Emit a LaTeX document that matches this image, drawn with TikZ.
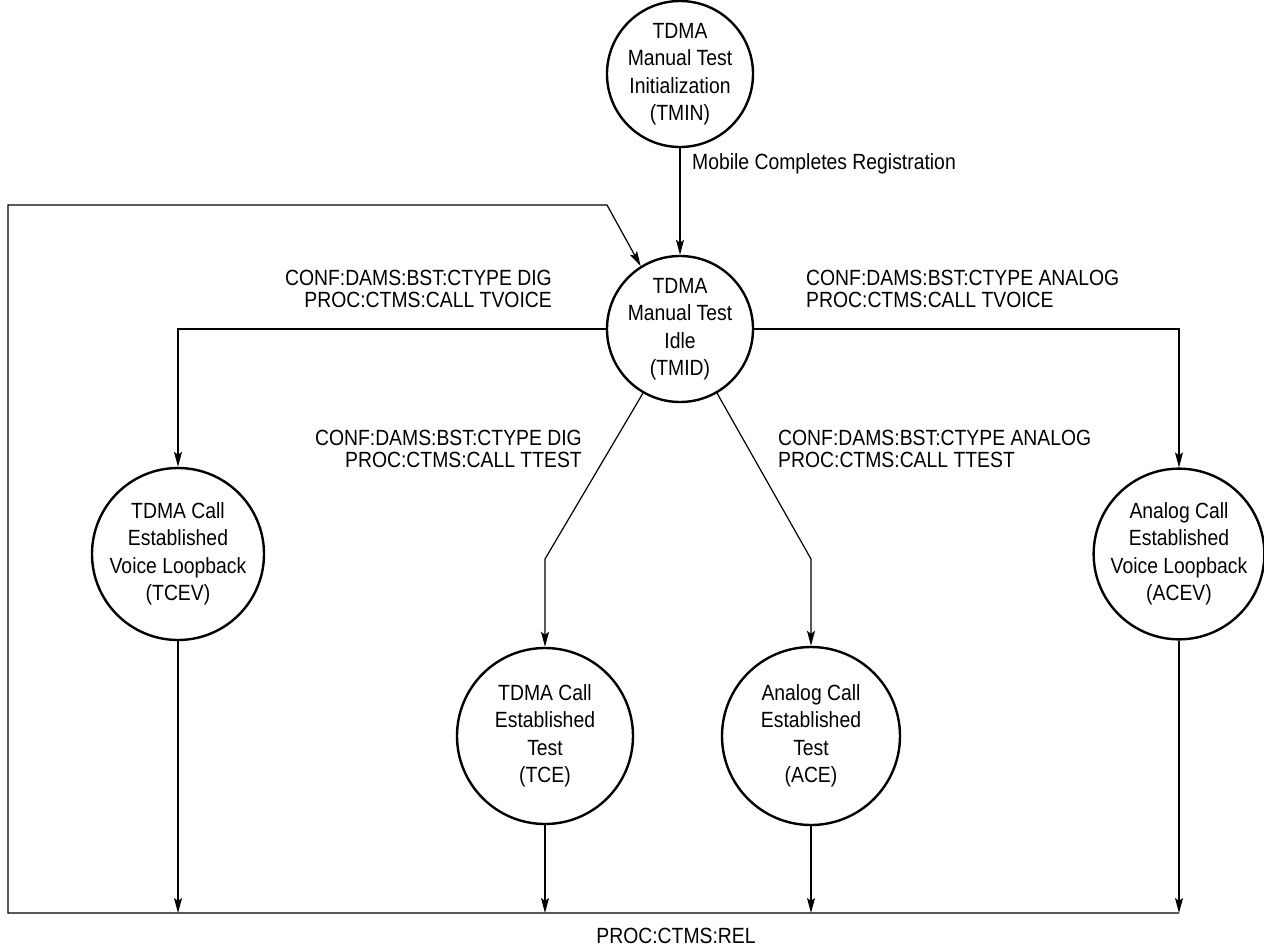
\documentclass[tikz,border=0pt]{standalone}
\usepackage{fontspec}
\setmainfont{Liberation Sans}[FakeStretch=0.88]
\usetikzlibrary{arrows.meta}
\begin{document}
\begin{tikzpicture}[x=1pt,y=-1pt,
  state/.style={draw, circle, line width=2.4pt, inner sep=0pt, align=center,
    font=\fontsize{22}{27.5}\selectfont},
  flow/.style={line width=1.2pt, -{Stealth[length=15pt,width=8pt,inset=3pt]}},
  wire/.style={line width=1.2pt},
  cmd/.style={inner sep=0pt, font=\fontsize{22}{21.5}\selectfont}]
\useasboundingbox (0,0) rectangle (1264,950);

% states
\node[state, minimum size=138pt] (tmin) at (680,74) {TDMA\\Manual Test\\Initialization\\(TMIN)};
\node[state, minimum size=140pt] (tmid) at (680,329) {TDMA\\Manual Test\\Idle\\(TMID)};
\node[state, minimum size=172pt] (tcev) at (178,554) {TDMA Call\\Established\\Voice Loopback\\(TCEV)};
\node[state, minimum size=170pt] (acev) at (1179,554) {Analog Call\\Established\\Voice Loopback\\(ACEV)};
\node[state, minimum size=176pt] (tce) at (545,736) {TDMA Call\\Established\\Test\\(TCE)};
\node[state, minimum size=178pt] (ace) at (811,736) {Analog Call\\Established\\Test\\(ACE)};

% corner points of the release loop
\coordinate (bl) at (8,913);
\coordinate (tl) at (8,205);
\coordinate (tr) at (607,205);
\coordinate (br) at (1179,913);
\coordinate (dl) at (545,559);
\coordinate (dr) at (811,559);

% transitions
\draw[flow] (tmin.south) -- (tmid.north);
\draw[flow] (br) -- (bl) -- (tl) -- (tr) -- (tmid.122);
\draw[flow] (tmid.west) -| (tcev.north);
\draw[flow] (tmid.east) -| (acev.north);
\draw[flow] (tmid.240) -- (dl) -- (tce.north);
\draw[flow] (tmid.300) -- (dr) -- (ace.north);
\draw[flow] (tcev.south) -- (tcev.south |- bl);
\draw[flow] (tce.south) -- (tce.south |- bl);
\draw[flow] (ace.south) -- (ace.south |- bl);
\draw[flow] (acev.south) -- (br);

% labels
\node[cmd, anchor=base west] (lreg) at (692,169) {Mobile Completes Registration};
\node[cmd, anchor=north east, align=right] (ldv) at (552,270) {CONF:DAMS:BST:CTYPE DIG\\PROC:CTMS:CALL TVOICE};
\node[cmd, anchor=north west, align=left] (lav) at (806,270) {CONF:DAMS:BST:CTYPE ANALOG\\PROC:CTMS:CALL TVOICE};
\node[cmd, anchor=north east, align=right] (ldt) at (582,430) {CONF:DAMS:BST:CTYPE DIG\\PROC:CTMS:CALL TTEST};
\node[cmd, anchor=north west, align=left] (lat) at (778,430) {CONF:DAMS:BST:CTYPE ANALOG\\PROC:CTMS:CALL TTEST};
\node[cmd, anchor=base] (lrel) at (676,943) {PROC:CTMS:REL};
\end{tikzpicture}
\end{document}
